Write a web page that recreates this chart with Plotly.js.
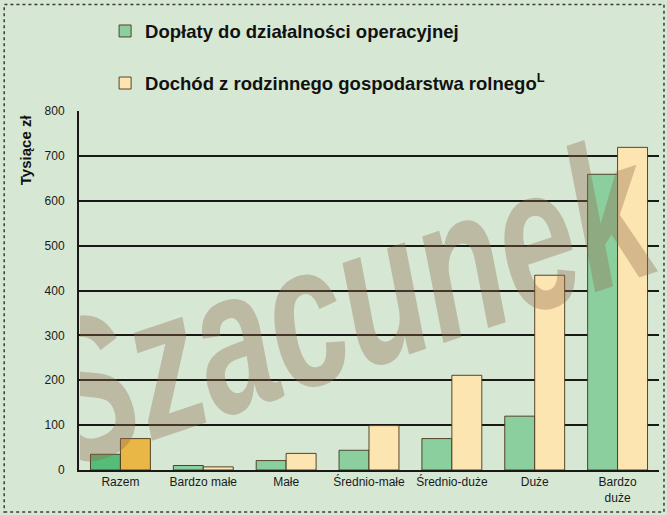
<!DOCTYPE html>
<html>
<head>
<meta charset="utf-8">
<script src="https://cdn.plot.ly/plotly-3.0.1.min.js"></script>
<style>
  html, body { margin: 0; padding: 0; background: #d6e8d4; }
  #wrap { position: relative; width: 667px; height: 515px; }
  #chart { position: absolute; left: 0; top: 0; width: 667px; height: 515px; }
  #wmclip { position: absolute; left: 80px; top: 0; width: 587px; height: 515px; overflow: hidden; pointer-events: none; }
  #wm { position: absolute; left: 263px; top: 302px; white-space: nowrap; line-height: 1;
        font-family: "Liberation Sans", Arial, sans-serif; font-weight: bold; font-style: italic;
        font-size: 137px; color: rgba(145,106,78,0.36);
        transform: translate(-50%, -50%) rotate(-18.5deg) scaleY(1.49); }
</style>
</head>
<body>
<div id="wrap">
  <div id="chart"></div>
  <div id="wmclip"><div id="wm">Szacunek</div></div>
</div>
<script>
// ---- data ----
const categories = ['Razem', 'Bardzo małe', 'Małe', 'Średnio-małe', 'Średnio-duże', 'Duże', 'Bardzo<br>duże'];
const doplaty = [35, 10, 21, 44, 70, 120, 659];
const dochod = [70, 7, 37, 99, 211, 434, 719];
const seriesNames = ['Dopłaty do działalności operacyjnej', 'Dochód z rodzinnego gospodarstwa rolnego<sup>L</sup>'];
const yTickVals = [0, 100, 200, 300, 400, 500, 600, 700, 800];
const yTitle = 'Tysiące zł';

// ---- style ----
const FONT = '"Liberation Sans", Arial, sans-serif';
const BG = '#d6e8d4';
const INK = '#1b1915';
const greenMain = '#8ccf9f', greenFirst = '#55bd78';
const beigeMain = '#fde5b1', beigeFirst = '#e9b745';
const outline = {color: 'rgba(70,52,25,0.9)', width: 1};

const traces = [
  // main bars (all categories except the "Razem" total)
  {type: 'bar', name: seriesNames[0], x: categories.slice(1), y: doplaty.slice(1),
   offsetgroup: 'g', legendgroup: 'a', marker: {color: greenMain, line: outline}, hoverinfo: 'skip'},
  {type: 'bar', name: seriesNames[1], x: categories.slice(1), y: dochod.slice(1),
   offsetgroup: 'b', legendgroup: 'b', marker: {color: beigeMain, line: outline}, hoverinfo: 'skip'},
  // "Razem" total bars, highlighted
  {type: 'bar', name: seriesNames[0], x: categories.slice(0, 1), y: doplaty.slice(0, 1), showlegend: false,
   offsetgroup: 'g', legendgroup: 'a', marker: {color: greenFirst, line: outline}, hoverinfo: 'skip'},
  {type: 'bar', name: seriesNames[1], x: categories.slice(0, 1), y: dochod.slice(0, 1), showlegend: false,
   offsetgroup: 'b', legendgroup: 'b', marker: {color: beigeFirst, line: outline}, hoverinfo: 'skip'}
];

const layout = {
  width: 667, height: 515,
  paper_bgcolor: BG, plot_bgcolor: BG,
  margin: {l: 79, r: 8, t: 111, b: 45, pad: 0},
  font: {family: FONT, color: INK, size: 12},
  barmode: 'group', bargap: 0.277, bargroupgap: 0,
  showlegend: true,
  legend: {x: 0.045, y: 1.2745, xanchor: 'left', yanchor: 'top', orientation: 'v',
           bgcolor: 'rgba(0,0,0,0)', traceorder: 'grouped', tracegroupgap: 25,
           font: {family: FONT, size: 18.5, color: '#111', weight: 'bold'}},
  xaxis: {type: 'category', categoryorder: 'array', categoryarray: categories,
          showline: true, linecolor: INK, linewidth: 2, ticks: '',
          showgrid: false, zeroline: false, tickfont: {size: 12, color: '#1a1a1a'}, fixedrange: true},
  yaxis: {range: [0, 800], tickmode: 'array', tickvals: yTickVals, ticktext: yTickVals.map(String),
          showgrid: true, gridcolor: INK, gridwidth: 2, showline: true, linecolor: INK, linewidth: 2,
          zeroline: false, ticks: '', ticklabelstandoff: 10, tickfont: {size: 12, color: '#1a1a1a'},
          fixedrange: true},
  annotations: [
    {text: '<b>' + yTitle + '</b>', xref: 'paper', yref: 'paper', x: -0.093, y: 0.891,
     xanchor: 'center', yanchor: 'middle', textangle: -90, showarrow: false,
     font: {family: FONT, size: 15, color: '#111'}}
  ],
  shapes: [
    {type: 'rect', xref: 'paper', yref: 'paper', x0: -0.129, x1: 1.0086, y0: -0.117, y1: 1.297,
     line: {color: '#3a3a3a', width: 1.5, dash: 'dot'}, fillcolor: 'rgba(0,0,0,0)', layer: 'above'}
  ]
};

Plotly.newPlot('chart', traces, layout, {displayModeBar: false, staticPlot: true});
</script>
</body>
</html>
